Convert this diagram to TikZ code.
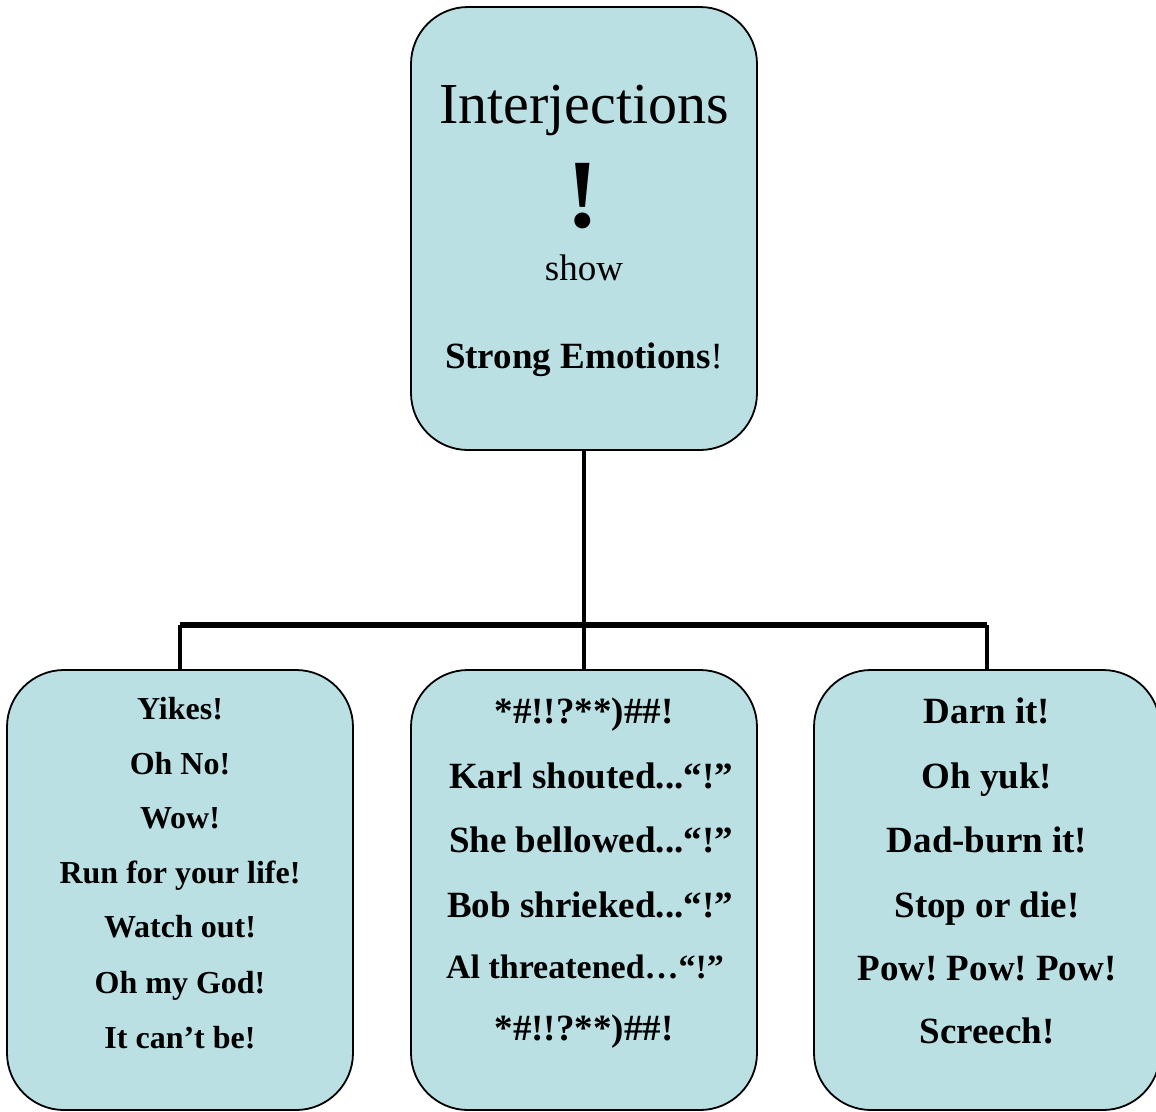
\documentclass[tikz,border=0pt]{standalone}
\usepackage{fontspec}
\setmainfont{Liberation Serif}
\definecolor{boxfill}{HTML}{BBE0E3}
\frenchspacing
\begin{document}
\begin{tikzpicture}[x=1pt,y=-1pt,
  card/.style={draw=black, line width=1.8pt, fill=boxfill, rounded corners=57pt,
    minimum width=346pt, inner sep=0pt, outer sep=0pt},
  conn/.style={draw=black, line width=4.5pt},
  bus/.style={draw=black, line width=5.5pt},
  txt/.style={anchor=base, inner sep=0pt},
  lft/.style={txt, font=\fontsize{32}{38}\selectfont\bfseries},
  big/.style={txt, font=\fontsize{37}{44}\selectfont\bfseries},
  sml/.style={txt, font=\fontsize{34}{40}\selectfont\bfseries}
]
\useasboundingbox (0,0) rectangle (1156,1111);
\clip (0,0) rectangle (1156,1111);

% boxes
\node[card, minimum height=443pt] (top) at (584,228.5) {};
\node[card, minimum height=440pt] (left) at (180,890) {};
\node[card, minimum height=440pt] (mid) at (584,890) {};
\node[card, minimum height=440pt] (right) at (987,890) {};

% connectors
\coordinate (hub) at (584,625);
\draw[conn] (top.south) -- (mid.north);
\draw[bus] (left.north |- hub) -- (right.north |- hub);
\draw[conn] (left.north |- hub) -- (left.north);
\draw[conn] (right.north |- hub) -- (right.north);

% top text
\node[txt, font=\fontsize{58}{66}\selectfont] (t1) at (584,123) {Interjections};
\node[txt, font=\fontsize{98}{110}\selectfont\bfseries] (t2) at (583,227) {!};
\node[txt, font=\fontsize{37}{44}\selectfont] (t3) at (584,280) {show};
\node[txt, font=\fontsize{37}{44}\selectfont] (t4) at (584,368) {\textbf{Strong Emotions}!};

% left text
\node[lft] (l1) at (180,719) {Yikes!};
\node[lft] (l2) at (180,774) {Oh No!};
\node[lft] (l3) at (180,828) {Wow!};
\node[lft] (l4) at (180,883) {Run for your life!};
\node[lft] (l5) at (180,937) {Watch out!};
\node[lft] (l6) at (180,993) {Oh my God!};
\node[lft] (l7) at (180,1048) {It can’t be!};

% middle text
\node[big] (m1) at (584,723) {*\#!!?**)\#\#!};
\node[big] (m2) at (591,788) {Karl shouted...“!”};
\node[big] (m3) at (591,852) {She bellowed...“!”};
\node[big] (m4) at (590,917) {Bob shrieked...“!”};
\node[sml] (m5) at (585,978) {Al threatened…“!”};
\node[big] (m6) at (584,1040) {*\#!!?**)\#\#!};

% right text
\node[big] (r1) at (987,723) {Darn it!};
\node[big] (r2) at (987,788) {Oh yuk!};
\node[big] (r3) at (987,852) {Dad-burn it!};
\node[big] (r4) at (987,917) {Stop or die!};
\node[big] (r5) at (987,980) {Pow! Pow! Pow!};
\node[big] (r6) at (987,1043) {Screech!};
\end{tikzpicture}
\end{document}
